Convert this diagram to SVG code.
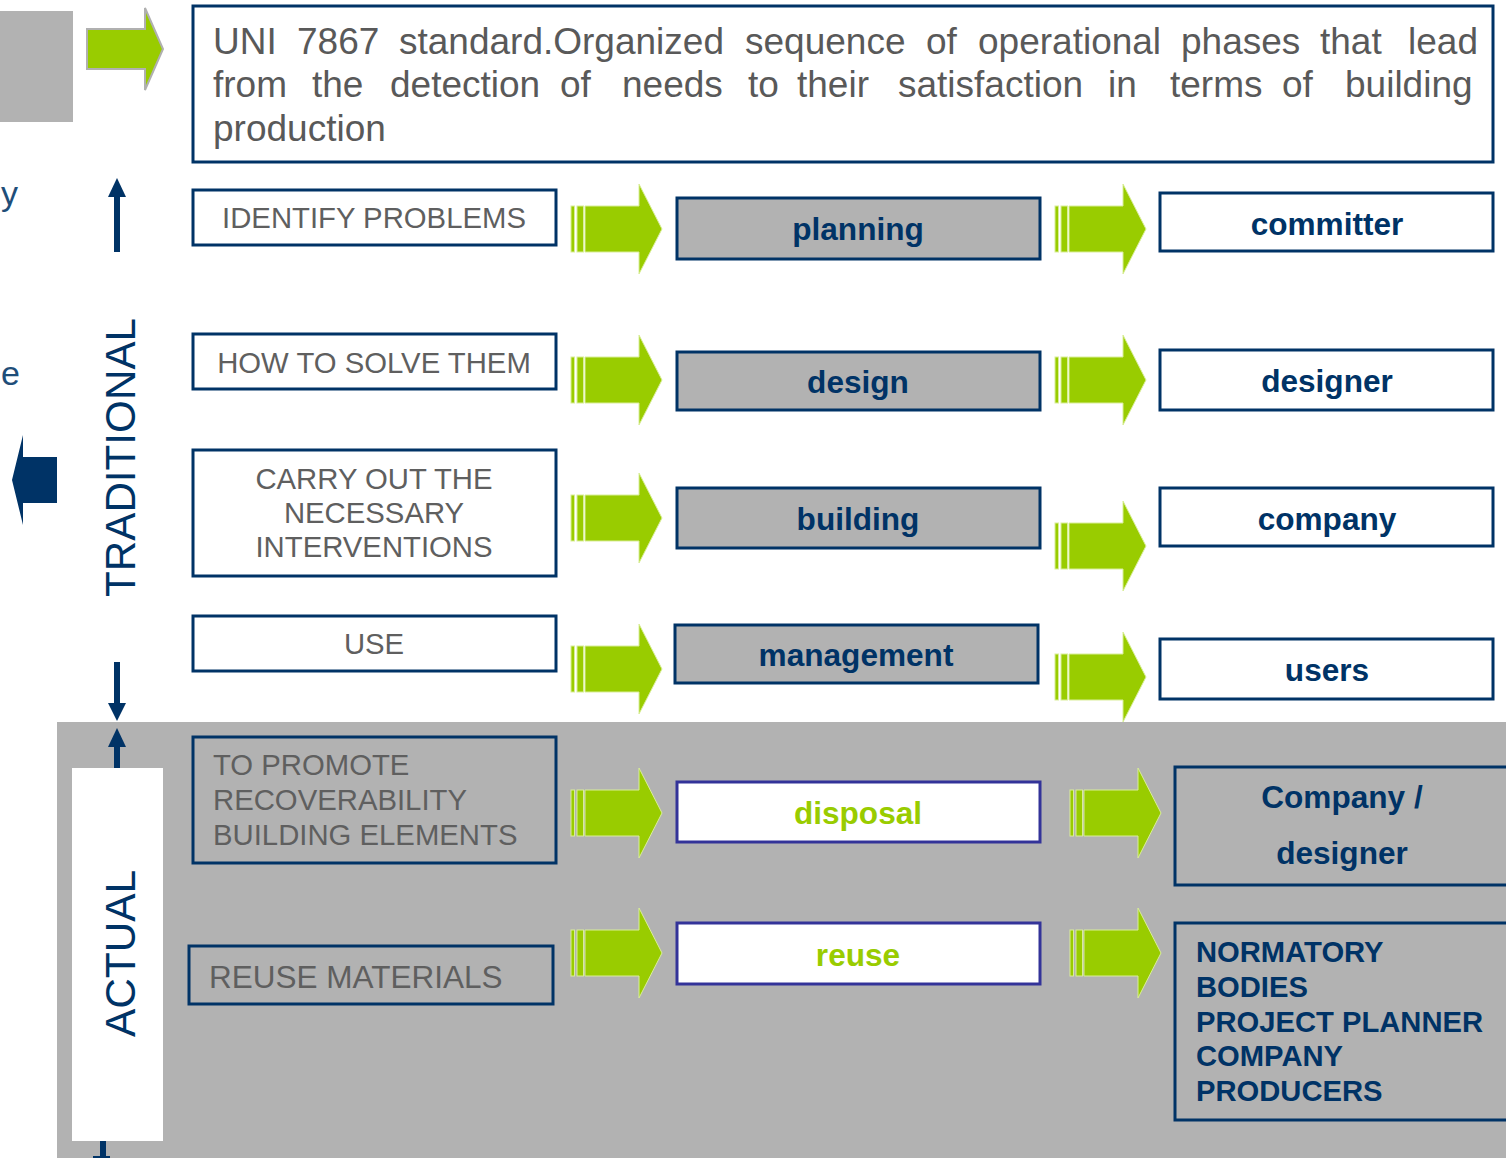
<svg xmlns="http://www.w3.org/2000/svg" width="1506" height="1158" viewBox="0 0 1506 1158">
<style>
.box{fill:#ffffff;stroke:#003366;stroke-width:3}
.gbox{fill:#b2b2b2;stroke:#003366;stroke-width:3}
.pbox{fill:#ffffff;stroke:#333399;stroke-width:3}
.lt{font-family:"Liberation Sans",Arial,sans-serif;font-size:29.3px;fill:#5f5f5f}
.mt{font-family:"Liberation Sans",Arial,sans-serif;font-size:31.6px;font-weight:bold;fill:#003366;text-anchor:middle}
.gt{font-family:"Liberation Sans",Arial,sans-serif;font-size:31.6px;font-weight:bold;fill:#99cc00;text-anchor:middle}
.rt{font-family:"Liberation Sans",Arial,sans-serif;font-size:29.2px;font-weight:bold;fill:#003366}
.vt{font-family:"Liberation Sans",Arial,sans-serif;font-size:42px;fill:#003366}
.side{font-family:"Liberation Sans",Arial,sans-serif;font-size:34px;fill:#1f4e79}
.top{font-family:"Liberation Sans",Arial,sans-serif;font-size:37px;fill:#595959}
.ga{fill:#99cc00;stroke:#d9ee99;stroke-width:1}
.nav{fill:#003366}
</style>
<defs>
<g id="garrow">
<rect x="0" y="-23" width="3.5" height="46"/>
<rect x="6" y="-23" width="6.5" height="46"/>
<path d="M14,-23 H68 V-45 L91,0 L68,45 V23 H14 Z"/>
</g>
</defs>

<!-- background panel -->
<rect x="57" y="722" width="1449" height="436" fill="#b2b2b2"/>
<rect x="72" y="768" width="91" height="373" fill="#ffffff"/>

<!-- top-left grey square and arrow -->
<g id="header-marker">
<rect x="0" y="11" width="73" height="111" fill="#b2b2b2"/>
<path d="M87,29 H145 V8 L163,49 L145,90 V69 H87 Z" fill="#99cc00" stroke="#b0b0b0" stroke-width="2"/>
</g>

<!-- side texts -->
<text x="1" y="205" class="side">y</text>
<text x="1" y="385" class="side">e</text>

<!-- top definition box -->
<g id="definition">
<rect x="193" y="6" width="1300" height="156" class="box"/>
<text class="top" y="54"><tspan x="213">UNI</tspan><tspan x="297">7867</tspan><tspan x="399">standard.Organized</tspan><tspan x="745">sequence</tspan><tspan x="926">of</tspan><tspan x="978">operational</tspan><tspan x="1181">phases</tspan><tspan x="1320">that</tspan><tspan x="1408">lead</tspan></text>
<text class="top" y="97"><tspan x="213">from</tspan><tspan x="312">the</tspan><tspan x="390">detection</tspan><tspan x="560">of</tspan><tspan x="622">needs</tspan><tspan x="748">to</tspan><tspan x="797">their</tspan><tspan x="898">satisfaction</tspan><tspan x="1108">in</tspan><tspan x="1170">terms</tspan><tspan x="1282">of</tspan><tspan x="1345">building</tspan></text>
<text class="top" x="213" y="141">production</text>
</g>

<!-- vertical labels -->
<g id="label-traditional"><text class="vt" transform="translate(135,597) rotate(-90)" textLength="279" lengthAdjust="spacingAndGlyphs">TRADITIONAL</text></g>
<g id="label-actual"><text class="vt" transform="translate(135,1037) rotate(-90)" textLength="167" lengthAdjust="spacingAndGlyphs">ACTUAL</text></g>

<!-- left column -->
<g id="n-identify"><rect x="193" y="190" width="363" height="55" class="box"/><text class="lt" x="374" y="228" text-anchor="middle">IDENTIFY PROBLEMS</text></g>
<g id="n-howto"><rect x="193" y="334" width="363" height="55" class="box"/><text class="lt" x="374" y="373" text-anchor="middle">HOW TO SOLVE THEM</text></g>
<g id="n-carry"><rect x="193" y="450" width="363" height="126" class="box"/>
<text class="lt" text-anchor="middle"><tspan x="374" y="489">CARRY OUT THE</tspan><tspan x="374" y="523">NECESSARY</tspan><tspan x="374" y="557">INTERVENTIONS</tspan></text></g>
<g id="n-use"><rect x="193" y="616" width="363" height="55" class="box"/><text class="lt" x="374" y="654" text-anchor="middle">USE</text></g>
<g id="n-promote"><rect x="193" y="737" width="363" height="126" class="gbox"/>
<text class="lt"><tspan x="213" y="775">TO PROMOTE</tspan><tspan x="213" y="810">RECOVERABILITY</tspan><tspan x="213" y="845">BUILDING ELEMENTS</tspan></text></g>
<g id="n-reusemat"><rect x="189" y="946" width="364" height="58" class="gbox"/><text class="lt" x="209" y="988" style="font-size:31.5px">REUSE MATERIALS</text></g>

<!-- middle column -->
<g id="n-planning"><rect x="677" y="198" width="363" height="61" class="gbox"/><text class="mt" x="858" y="240">planning</text></g>
<g id="n-design"><rect x="677" y="352" width="363" height="58" class="gbox"/><text class="mt" x="858" y="393">design</text></g>
<g id="n-building"><rect x="677" y="488" width="363" height="60" class="gbox"/><text class="mt" x="858" y="530">building</text></g>
<g id="n-management"><rect x="675" y="625" width="363" height="58" class="gbox"/><text class="mt" x="856" y="666">management</text></g>
<g id="n-disposal"><rect x="677" y="782" width="363" height="60" class="pbox"/><text class="gt" x="858" y="824">disposal</text></g>
<g id="n-reuse"><rect x="677" y="923" width="363" height="61" class="pbox"/><text class="gt" x="858" y="966">reuse</text></g>

<!-- right column -->
<g id="n-committer"><rect x="1160" y="193" width="333" height="58" class="box"/><text class="mt" x="1327" y="235">committer</text></g>
<g id="n-designer"><rect x="1160" y="350" width="333" height="60" class="box"/><text class="mt" x="1327" y="392">designer</text></g>
<g id="n-company"><rect x="1160" y="488" width="333" height="58" class="box"/><text class="mt" x="1327" y="530">company</text></g>
<g id="n-users"><rect x="1160" y="639" width="333" height="60" class="box"/><text class="mt" x="1327" y="681">users</text></g>
<g id="n-companydesigner"><rect x="1175" y="767" width="340" height="118" class="gbox"/>
<text class="mt"><tspan x="1342" y="808">Company /</tspan><tspan x="1342" y="864">designer</tspan></text></g>
<g id="n-bodies"><rect x="1175" y="923" width="340" height="197" class="gbox"/>
<text class="rt"><tspan x="1196" y="962">NORMATORY</tspan><tspan x="1196" y="997">BODIES</tspan><tspan x="1196" y="1032">PROJECT PLANNER</tspan><tspan x="1196" y="1066">COMPANY</tspan><tspan x="1196" y="1101">PRODUCERS</tspan></text></g>

<!-- connectors -->
<g id="connectors">
<g class="ga">
<use href="#garrow" transform="translate(571,229)"/>
<use href="#garrow" transform="translate(1055,229)"/>
<use href="#garrow" transform="translate(571,380)"/>
<use href="#garrow" transform="translate(1055,380)"/>
<use href="#garrow" transform="translate(571,518)"/>
<use href="#garrow" transform="translate(1055,546)"/>
<use href="#garrow" transform="translate(571,669)"/>
<use href="#garrow" transform="translate(1055,677)"/>
<use href="#garrow" transform="translate(571,813)"/>
<use href="#garrow" transform="translate(1070,813)"/>
<use href="#garrow" transform="translate(571,953)"/>
<use href="#garrow" transform="translate(1070,953)"/>
</g>
<g class="nav">
<rect x="114" y="195" width="6" height="57"/><path d="M108,197 L126,197 L117,178 Z"/>
<rect x="114" y="662" width="6" height="43"/><path d="M108,703 L126,703 L117,721 Z"/>
<rect x="114" y="745" width="6" height="23"/><path d="M108,747 L126,747 L117,728 Z"/>
<rect x="100" y="1141" width="6" height="17"/><path d="M93,1156 L110,1156 L110,1158 L93,1158 Z"/>
<path d="M57,457 V503 H23 V525 L12,480 L23,435 V457 Z"/>
</g>
</g>
</svg>
